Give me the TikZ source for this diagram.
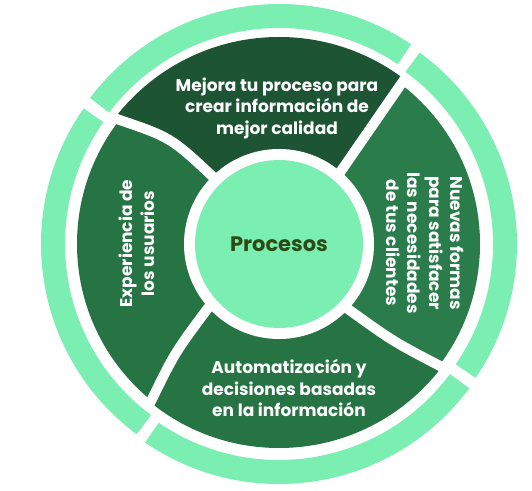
\documentclass[tikz,border=0pt]{standalone}
\usepackage{fontspec}
\setmainfont{Poppins}
\definecolor{lightg}{HTML}{7AEFB1}
\definecolor{topg}{HTML}{1C5434}
\definecolor{midg}{HTML}{267343}
\definecolor{rightg}{HTML}{2A7D4B}
\definecolor{proctxt}{HTML}{2D4B14}
\tikzset{
  lightarc/.style={fill=lightg},
  gapline/.style={draw=white, line width=10pt},
  segtxt/.style={text=white, align=center, inner sep=0pt,
    font=\bfseries\fontsize{17}{21.5}\selectfont},
}
\begin{document}
\begin{tikzpicture}[x=1pt,y=1pt]
\useasboundingbox (0,0) rectangle (532,490);
\fill[white] (0,0) rectangle (532,490);
\begin{scope}[shift={(279,246)}]
  % outer light ring arcs
  \fill[lightarc, shift={(0,3)}] (56.1:237) arc[start angle=56.1, end angle=142.9, radius=237pt] -- (142.9:213) arc[start angle=142.9, end angle=56.1, radius=213pt] -- cycle;
  \fill[lightarc, shift={(-1,0)}] (145.1:237) arc[start angle=145.1, end angle=233.4, radius=237pt] -- (233.4:213) arc[start angle=233.4, end angle=145.1, radius=213pt] -- cycle;
  \fill[lightarc, shift={(0,-3)}] (235.6:237) arc[start angle=235.6, end angle=323.4, radius=237pt] -- (323.4:213) arc[start angle=323.4, end angle=235.6, radius=213pt] -- cycle;
  \fill[lightarc, shift={(1,0)}] (325.6:237) arc[start angle=325.6, end angle=413.9, radius=237pt] -- (413.9:213) arc[start angle=413.9, end angle=325.6, radius=213pt] -- cycle;
  % dark segments
  \begin{scope}
    \clip (0,0) circle[radius=207pt];
    \fill[topg] (0,0) -- (49.6:95) .. controls (92.9,117.7) .. (52.7:205) -- (52.7:260) arc[start angle=52.7, end angle=142.4, radius=260pt] -- (142.4:205) .. controls (-108.4,106.7) .. (134.5:95) -- cycle;
  \end{scope}
  \begin{scope}
    \clip (0,0) circle[radius=202pt];
    \fill[midg] (0,0) -- (134.5:95) .. controls (-108.4,106.7) .. (142.4:205) -- (142.4:260) arc[start angle=142.4, end angle=231, radius=260pt] -- (231:205) .. controls (-104.3,-108.7) .. (222:95) -- cycle;
  \end{scope}
  \begin{scope}
    \clip (0,0) circle[radius=204pt];
    \fill[midg] (0,0) -- (222:95) .. controls (-104.3,-108.7) .. (231:205) -- (231:260) arc[start angle=231, end angle=323, radius=260pt] -- (323:205) .. controls (114.4,-97.7) .. (316.7:95) -- cycle;
  \end{scope}
  \begin{scope}
    \clip (0,0) circle[radius=201pt];
    \fill[rightg] (0,0) -- (316.7:95) .. controls (114.4,-97.7) .. (323:205) -- (323:260) arc[start angle=323, end angle=412.7, radius=260pt] -- (52.7:205) .. controls (92.9,117.7) .. (49.6:95) -- cycle;
  \end{scope}
  % white gaps between dark segments
  \draw[gapline] (49.6:80) -- (49.6:95) .. controls (92.9,117.7) .. (52.7:205) -- (52.7:209);
  \draw[gapline] (134.5:80) -- (134.5:95) .. controls (-108.4,106.7) .. (142.4:205) -- (142.4:209);
  \draw[gapline] (222:80) -- (222:95) .. controls (-104.3,-108.7) .. (231:205) -- (231:209);
  \draw[gapline] (316.7:80) -- (316.7:95) .. controls (114.4,-97.7) .. (323:205) -- (323:209);
  % centre
  \fill[white] (0,0) circle[radius=95pt];
  \node[circle, fill=lightg, minimum size=168pt, inner sep=0pt, text=proctxt,
        font=\bfseries\fontsize{21}{24}\selectfont] (proc) at (0,0) {Procesos};
  % labels
  \node[segtxt] (mejora) at (-2,136) {Mejora tu proceso para\\crear información de\\mejor calidad};
  \node[segtxt] (auto) at (10,-144) {Automatización y\\decisiones basadas\\en la información};
  \node[segtxt, rotate=90] (exper) at (-142,0.5) {Experiencia de\\los usuarios};
  \node[segtxt, rotate=-90] (nuevas) at (146,1) {Nuevas formas\\para satisfacer\\las necesidades\\de tus clientes};
\end{scope}
\end{tikzpicture}
\end{document}
